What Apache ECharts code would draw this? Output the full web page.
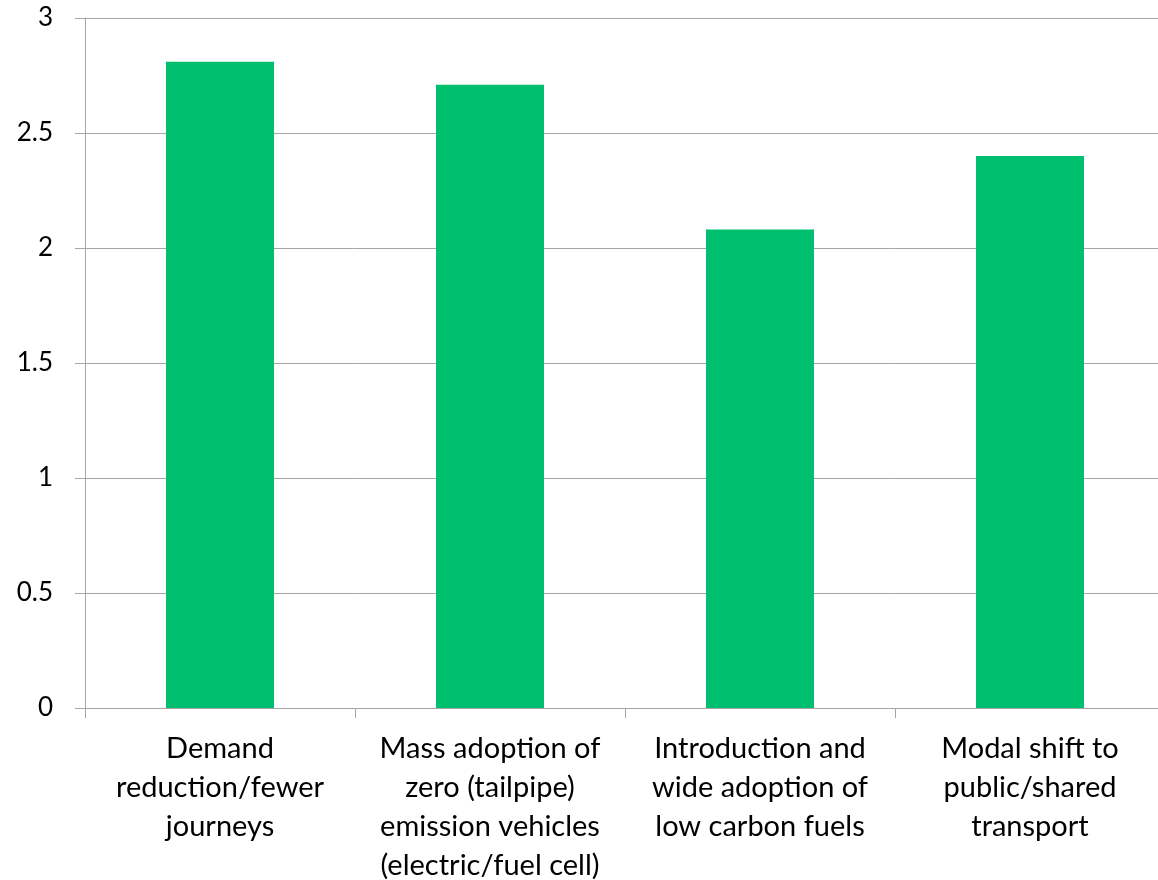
<!DOCTYPE html>
<html>
<head>
<meta charset="utf-8">
<script src="https://cdn.jsdelivr.net/npm/echarts@6/dist/echarts.min.js"></script>
<style>
  html, body { margin: 0; padding: 0; background: #fff; }
  #main { width: 1158px; height: 880px; }
</style>
</head>
<body>
<div id="main"></div>
<script>
const categories = [
  'Demand\nreduction/fewer\njourneys',
  'Mass adoption of\nzero (tailpipe)\nemission vehicles\n(electric/fuel cell)',
  'Introduction and\nwide adoption of\nlow carbon fuels',
  'Modal shift to\npublic/shared\ntransport'
];
const values = [2.81, 2.71, 2.08, 2.40];

const chart = echarts.init(document.getElementById('main'));
const axisGrey = '#a6a6a6';
const fontFamily = 'Lato, "Open Sans", sans-serif';

const option = {
  animation: false,
  grid: { left: 85, right: -7, top: 18, bottom: 172, outerBoundsMode: 'none' },
  xAxis: {
    type: 'category',
    data: categories,
    axisLine: { lineStyle: { color: axisGrey, width: 1 } },
    axisTick: { show: true, length: 10, lineStyle: { color: axisGrey } },
    axisLabel: {
      color: '#000',
      fontSize: 29,
      fontFamily: fontFamily,
      lineHeight: 39,
      margin: 21,
      interval: 0,
      align: 'center',
      hideOverlap: false
    }
  },
  yAxis: {
    type: 'value',
    min: 0,
    max: 3,
    interval: 0.5,
    axisLine: { show: true, lineStyle: { color: axisGrey, width: 1 } },
    axisTick: { show: true, length: 10, lineStyle: { color: axisGrey } },
    splitLine: { lineStyle: { color: axisGrey, width: 1 } },
    axisLabel: {
      color: '#000',
      fontSize: 26,
      fontFamily: fontFamily,
      margin: 32
    }
  },
  series: [
    {
      type: 'bar',
      data: values,
      barWidth: '40%',
      itemStyle: { color: '#00bf6f' }
    }
  ]
};

chart.setOption(option);
</script>
</body>
</html>
